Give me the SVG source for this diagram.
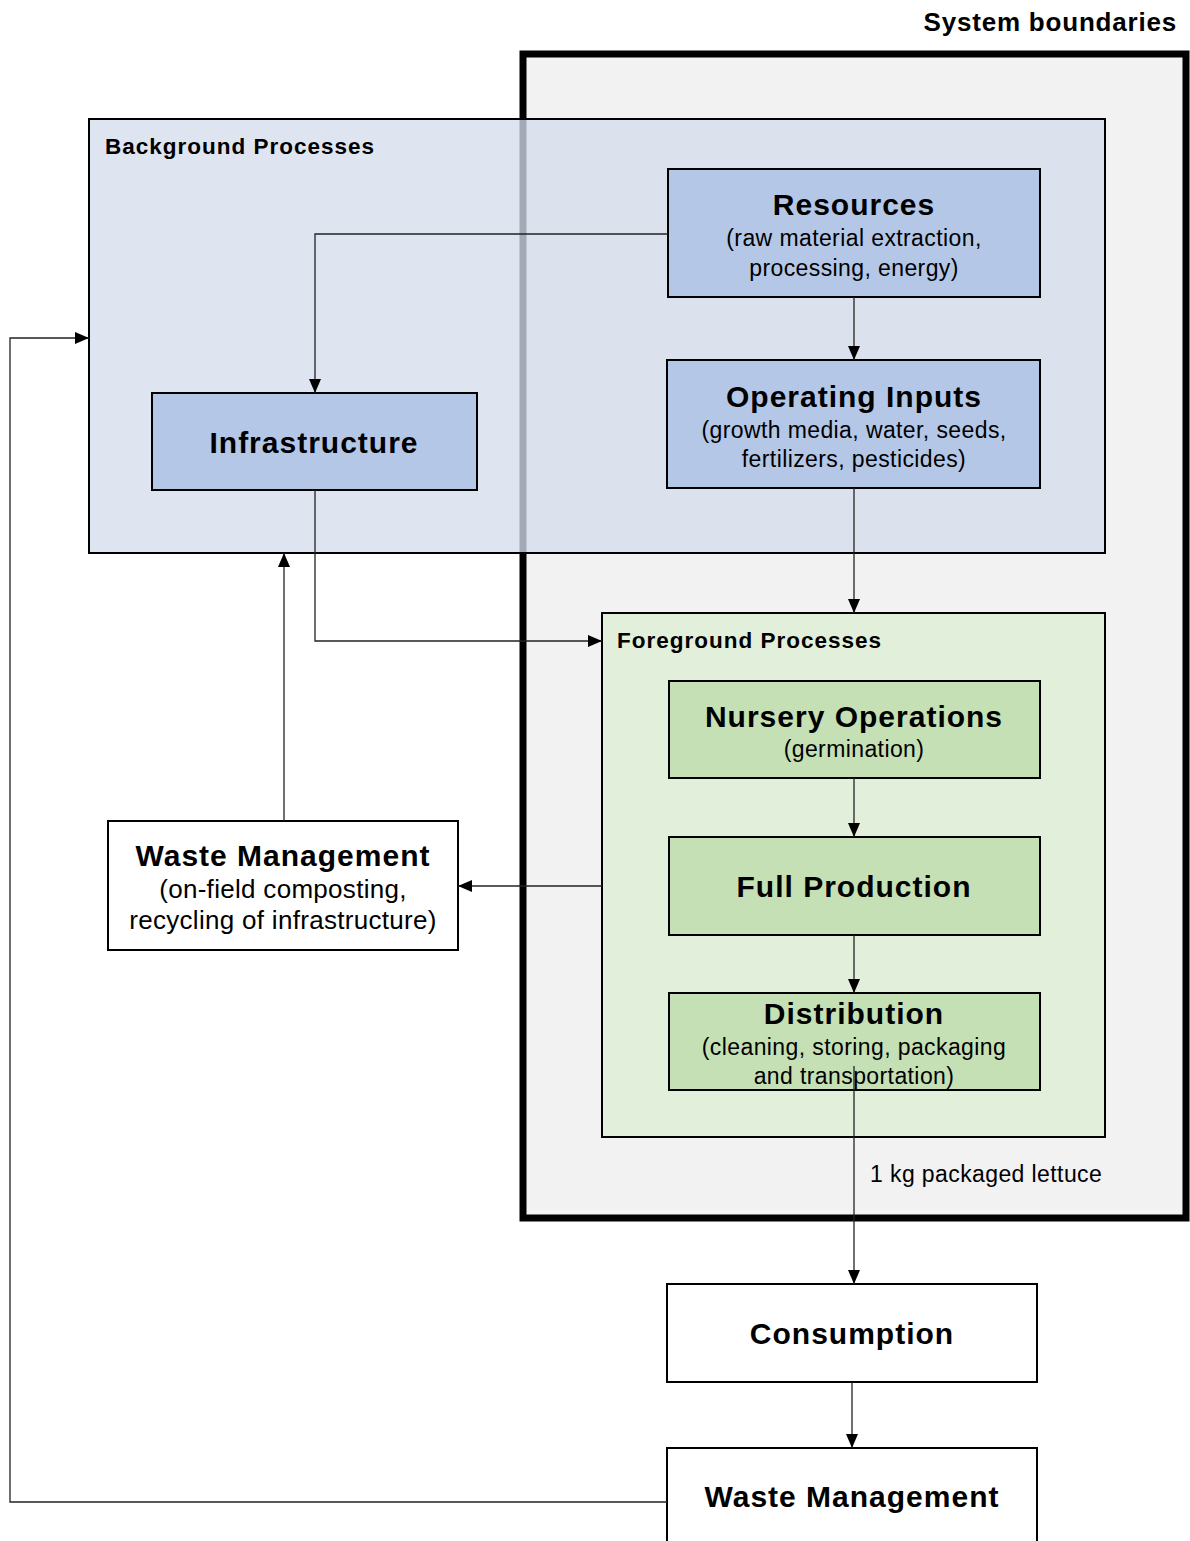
<svg xmlns="http://www.w3.org/2000/svg" width="1190" height="1541" viewBox="0 0 1190 1541">
<defs>
<marker id="ah" markerWidth="14" markerHeight="12" refX="14" refY="6" orient="auto" markerUnits="userSpaceOnUse">
<path d="M0,0 L14,6 L0,12 Z" fill="#000"/>
</marker>
<style>
text{font-family:"Liberation Sans",Arial,sans-serif;fill:#000}
.t{font-size:30px;font-weight:bold;text-anchor:middle;letter-spacing:1px}
.s{font-size:23px;text-anchor:middle;letter-spacing:0.4px}
.sw{font-size:26px;text-anchor:middle;letter-spacing:0.3px}
.lbl{font-size:22.5px;font-weight:bold;letter-spacing:1px}
.box{stroke:#000;stroke-width:2}
.blue{fill:#b4c7e7}
.green{fill:#c5e0b4}
.white{fill:#fff}
.c{fill:none;stroke:#222;stroke-width:1.3;marker-end:url(#ah)}
</style>
</defs>
<rect width="1190" height="1541" fill="#fff"/>
<g id="system-boundary">
<rect x="523" y="54" width="663" height="1164" fill="#f2f2f2" stroke="#000" stroke-width="7"/>
<text x="1177" y="31" style="font-size:26px;font-weight:bold;text-anchor:end;letter-spacing:0.8px">System boundaries</text>
</g>
<g id="background-processes">
<rect x="89" y="119" width="1016" height="434" fill="#d6ddec" fill-opacity="0.77" stroke="#000" stroke-width="2"/>
<text x="105" y="154" class="lbl">Background Processes</text>
</g>
<g id="foreground-processes">
<rect x="602" y="613" width="503" height="524" fill="#e2efda" stroke="#000" stroke-width="2"/>
<text x="617" y="648" class="lbl">Foreground Processes</text>
</g>
<g id="resources">
<rect x="668" y="169" width="372" height="128" class="box blue"/>
<text x="854" y="215" class="t">Resources</text>
<text x="854" y="246" class="s">(raw material extraction,</text>
<text x="854" y="276" class="s">processing, energy)</text>
</g>
<g id="operating-inputs">
<rect x="667" y="360" width="373" height="128" class="box blue"/>
<text x="854" y="407" class="t">Operating Inputs</text>
<text x="854" y="438" class="s">(growth media, water, seeds,</text>
<text x="854" y="467" class="s">fertilizers, pesticides)</text>
</g>
<g id="infrastructure">
<rect x="152" y="393" width="325" height="97" class="box blue"/>
<text x="314" y="453" class="t">Infrastructure</text>
</g>
<g id="nursery-operations">
<rect x="669" y="681" width="371" height="97" class="box green"/>
<text x="854" y="727" class="t">Nursery Operations</text>
<text x="854" y="757" class="s">(germination)</text>
</g>
<g id="full-production">
<rect x="669" y="837" width="371" height="98" class="box green"/>
<text x="854" y="897" class="t">Full Production</text>
</g>
<g id="distribution">
<rect x="669" y="993" width="371" height="97" class="box green"/>
<text x="854" y="1024" class="t">Distribution</text>
<text x="854" y="1055" class="s">(cleaning, storing, packaging</text>
<text x="854" y="1084" class="s">and transportation)</text>
</g>
<g id="waste-management-left">
<rect x="108" y="821" width="350" height="129" class="box white"/>
<text x="283" y="866" class="t">Waste Management</text>
<text x="283" y="898" class="sw">(on-field composting,</text>
<text x="283" y="929" class="sw">recycling of infrastructure)</text>
</g>
<g id="consumption">
<rect x="667" y="1284" width="370" height="98" class="box white"/>
<text x="852" y="1344" class="t">Consumption</text>
</g>
<g id="waste-management-bottom">
<rect x="667" y="1448" width="370" height="100" class="box white"/>
<text x="852" y="1507" class="t">Waste Management</text>
</g>
<g id="connectors">
<path class="c" d="M668,234 H315 V393"/>
<path class="c" d="M854,297 V360"/>
<path class="c" d="M854,488 V613"/>
<path class="c" d="M315,490 V641 H602"/>
<path class="c" d="M602,886 H458"/>
<path class="c" d="M284,821 V553"/>
<path class="c" d="M854,778 V837"/>
<path class="c" d="M854,935 V993"/>
<path class="c" d="M854,1066 V1284"/>
<path class="c" d="M852,1382 V1448"/>
<path class="c" d="M667,1502 H10 V338 H89"/>
<text x="870" y="1182" style="font-size:23px;letter-spacing:0.4px">1 kg packaged lettuce</text>
</g>
</svg>
